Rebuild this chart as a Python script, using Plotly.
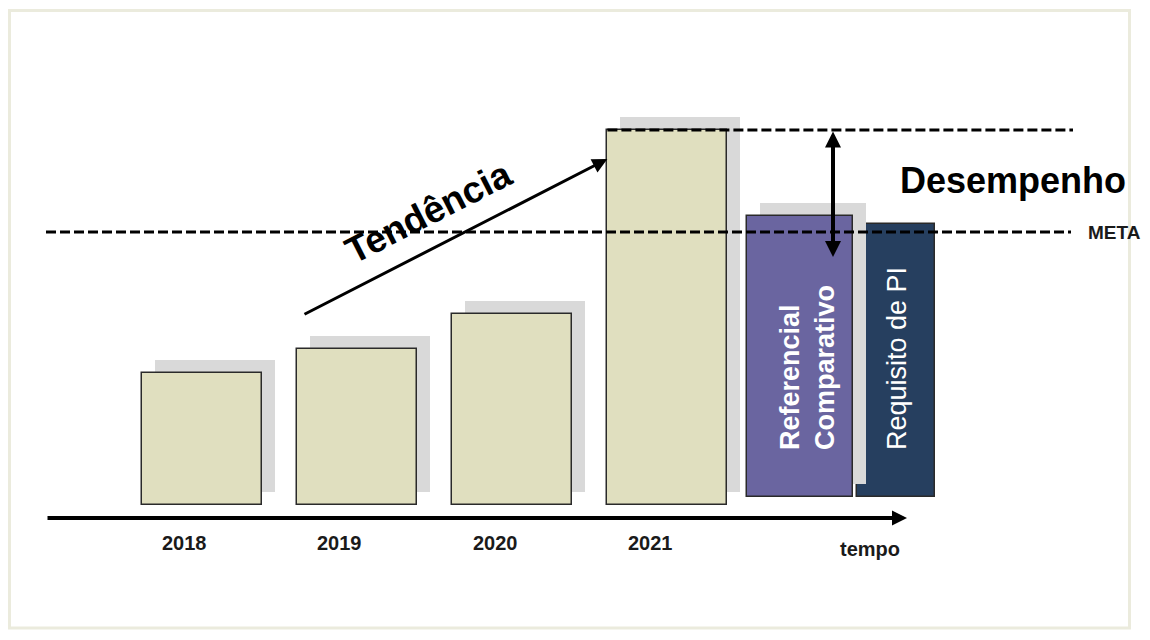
import plotly.graph_objects as go

# ---------------- data ----------------
anos = ["2018", "2019", "2020", "2021"]
valores = [132, 156, 191, 375]          # desempenho por ano
ref_label = "Referencial<br>Comparativo"
referencial = 289
req_label = "Requisito de PI"
requisito = 281
base_ref = 8
meta = 273
tendencia_ini = 190
tendencia_fim = 346
desempenho_fim = 248

# ---------------- layout constants (pixel-like units) ----------------
X0, SLOT, BAR_W = 201.5, 155.3, 120
REF_X, REF_W = 800, 106
REQ_X, REQ_W = 896, 78
SH = 13                      # shadow offset
BEIGE = "#E0DFBF"
PURPLE = "#6A65A0"
NAVY = "#263F5F"
SHADOW = "#D9D9D9"
EDGE = "#2A2A2A"
FONT = "Liberation Sans, Arial, sans-serif"

xs = [X0 + i * SLOT for i in range(len(anos))]

fig = go.Figure()

# navy bar (drawn first: the purple shadow overlaps it)
fig.add_trace(go.Bar(x=[REQ_X], y=[requisito - base_ref], base=[base_ref], width=[REQ_W],
                     marker=dict(color=NAVY, line=dict(color=EDGE, width=1.5)),
                     hoverinfo="skip", showlegend=False))
# shadows
fig.add_trace(go.Bar(x=[x + SH for x in xs] + [REF_X + SH],
                     y=valores + [referencial - base_ref],
                     base=[SH] * len(xs) + [base_ref + SH],
                     width=[BAR_W] * len(xs) + [REF_W],
                     marker=dict(color=SHADOW, line=dict(width=0)),
                     hoverinfo="skip", showlegend=False))
# year bars
fig.add_trace(go.Bar(x=xs, y=valores, base=[0] * len(xs), width=[BAR_W] * len(xs),
                     marker=dict(color=BEIGE, line=dict(color=EDGE, width=1.5)),
                     hoverinfo="skip", showlegend=False))
# referencial comparativo
fig.add_trace(go.Bar(x=[REF_X], y=[referencial - base_ref], base=[base_ref], width=[REF_W],
                     marker=dict(color=PURPLE, line=dict(color=EDGE, width=1.5)),
                     hoverinfo="skip", showlegend=False))

# dashed lines
DASH = "10px,4px"
fig.add_trace(go.Scatter(x=[46, 1071], y=[meta, meta], mode="lines",
                         line=dict(color="black", width=3, dash=DASH),
                         hoverinfo="skip", showlegend=False))
fig.add_trace(go.Scatter(x=[xs[-1] - BAR_W / 2, 1073], y=[valores[-1], valores[-1]], mode="lines",
                         line=dict(color="black", width=3, dash=DASH),
                         hoverinfo="skip", showlegend=False))

ann = []
# time axis arrow
ann.append(dict(x=907, y=-13, ax=46, ay=-13, xref="x", yref="y", axref="x", ayref="y",
                text="", showarrow=True, arrowhead=2, arrowsize=0.75, arrowwidth=4,
                arrowcolor="black", standoff=0))
# tendency arrow
ann.append(dict(x=xs[-1] - BAR_W / 2, y=tendencia_fim, ax=303, ay=tendencia_ini,
                xref="x", yref="y", axref="x", ayref="y",
                text="", showarrow=True, arrowhead=2, arrowsize=1.0, arrowwidth=3,
                arrowcolor="black", standoff=0))
# desempenho double arrow
ann.append(dict(x=833, y=desempenho_fim, ax=833, ay=valores[-1],
                xref="x", yref="y", axref="x", ayref="y",
                text="", showarrow=True, arrowhead=2, startarrowhead=2, arrowside="end+start",
                arrowsize=0.8, startarrowsize=0.8, arrowwidth=4,
                arrowcolor="black", standoff=0, startstandoff=0))

# year labels
for x, a in zip(xs, anos):
    ann.append(dict(x=x - 17, y=-38, xref="x", yref="y", text=a, showarrow=False,
                    font=dict(family="Liberation Sans Narrow, Arial Narrow, " + FONT,
                              size=20, color="#1a1a1a", weight="bold")))
ann.append(dict(x=870, y=-44, xref="x", yref="y", text="tempo", showarrow=False,
                font=dict(family=FONT, size=20, color="#1a1a1a", weight="bold")))
ann.append(dict(x=1086, y=meta, xref="x", yref="y", text="META", showarrow=False,
                xanchor="left", font=dict(family=FONT, size=19, color="#1a1a1a", weight="bold")))
ann.append(dict(x=1013, y=505 - 180, xref="x", yref="y", text="Desempenho", showarrow=False,
                font=dict(family=FONT, size=36, color="black", weight="bold")))
ann.append(dict(x=428, y=505 - 212, xref="x", yref="y", text="Tendência", showarrow=False,
                textangle=-27, font=dict(family=FONT, size=37, color="black", weight="bold")))
# vertical texts inside bars
ann.append(dict(x=REF_X + 7, y=505 - 368, xref="x", yref="y", text=ref_label, showarrow=False,
                textangle=-90, align="left",
                font=dict(family=FONT, size=27, color="white", weight="bold")))
ann.append(dict(x=REQ_X + 1, y=505 - 359, xref="x", yref="y", text=req_label, showarrow=False,
                textangle=-90, font=dict(family=FONT, size=27, color="white")))

fig.update_layout(
    width=1150, height=640,
    margin=dict(l=0, r=0, t=0, b=0),
    paper_bgcolor="white", plot_bgcolor="white",
    barmode="overlay", bargap=0,
    xaxis=dict(range=[0, 1150], visible=False, fixedrange=True),
    yaxis=dict(range=[-135, 505], visible=False, fixedrange=True),
    annotations=ann,
    shapes=[dict(type="rect", xref="x", yref="y", x0=9.5, x1=1129.5, y0=505 - 10.5, y1=505 - 628,
                 line=dict(color="#EBEBDD", width=3), fillcolor="rgba(0,0,0,0)", layer="below")],
)

fig.write_html("out.html")
